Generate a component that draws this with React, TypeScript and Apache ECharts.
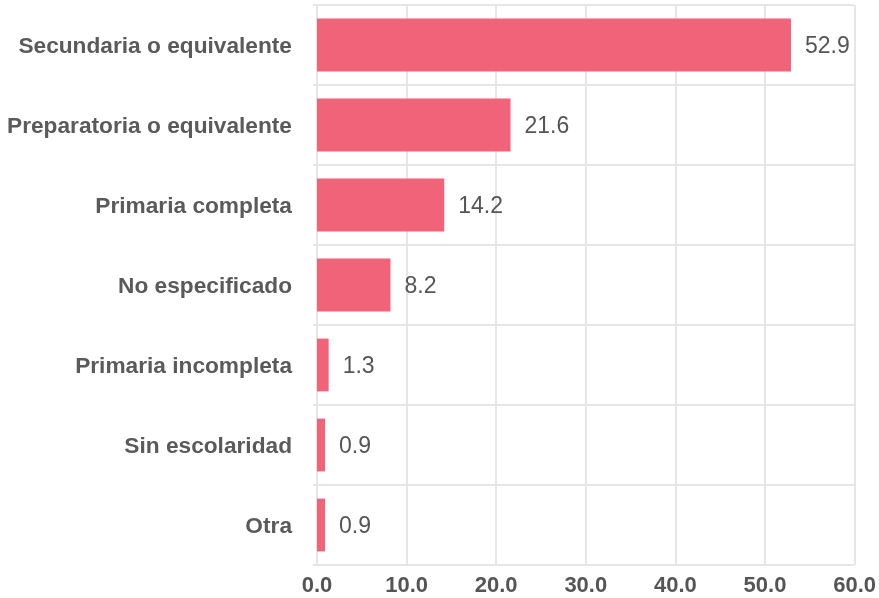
import React, { useEffect, useRef } from "react";
import * as echarts from "echarts";

const categories = [
  "Secundaria o equivalente",
  "Preparatoria o equivalente",
  "Primaria completa",
  "No especificado",
  "Primaria incompleta",
  "Sin escolaridad",
  "Otra",
];
const values = [52.9, 21.6, 14.2, 8.2, 1.3, 0.9, 0.9];
const xTicks = [0, 10, 20, 30, 40, 50, 60];

const FONT = "'Liberation Sans', Arial, Helvetica, sans-serif";
const TEXT = "#555555";
const GRID = "#e6e6e6";

export default function App() {
  const ref = useRef<HTMLDivElement>(null);
  useEffect(() => {
    if (!ref.current) return;
    const chart = echarts.init(ref.current, null, { renderer: "svg" });
    chart.setOption({
      animation: false,
      grid: { left: 317, right: 24, top: 5, bottom: 33, containLabel: false },
      xAxis: {
        type: "value",
        min: xTicks[0],
        max: xTicks[xTicks.length - 1],
        interval: 10,
        axisLine: { show: false },
        axisTick: { show: false },
        splitLine: { show: true, lineStyle: { color: GRID, width: 2 } },
        axisLabel: {
          color: TEXT,
          fontFamily: FONT,
          fontSize: 22,
          fontWeight: "bold",
          margin: 8,
          formatter: (v: number) => v.toFixed(1),
        },
      },
      yAxis: {
        type: "category",
        data: categories,
        inverse: true,
        axisLine: { show: true, lineStyle: { color: GRID, width: 2 } },
        axisTick: { show: true, length: 4, lineStyle: { color: GRID, width: 2 } },
        splitLine: { show: true, lineStyle: { color: GRID, width: 2 } },
        axisLabel: {
          color: "#5a5a5a",
          fontFamily: FONT,
          fontSize: 22.7,
          fontWeight: "bold",
          margin: 25,
        },
      },
      series: [
        {
          type: "bar",
          data: values,
          barCategoryGap: "34%",
          itemStyle: { color: "#f06379" },
          label: {
            show: true,
            position: "right",
            distance: 14,
            color: TEXT,
            fontFamily: FONT,
            fontSize: 23,
            formatter: (p: any) => Number(p.value).toFixed(1),
          },
        },
      ],
    });
    return () => chart.dispose();
  }, []);
  return (
    <div
      ref={ref}
      style={{ position: "fixed", left: 0, top: 0, width: 879, height: 598 }}
    />
  );
}
